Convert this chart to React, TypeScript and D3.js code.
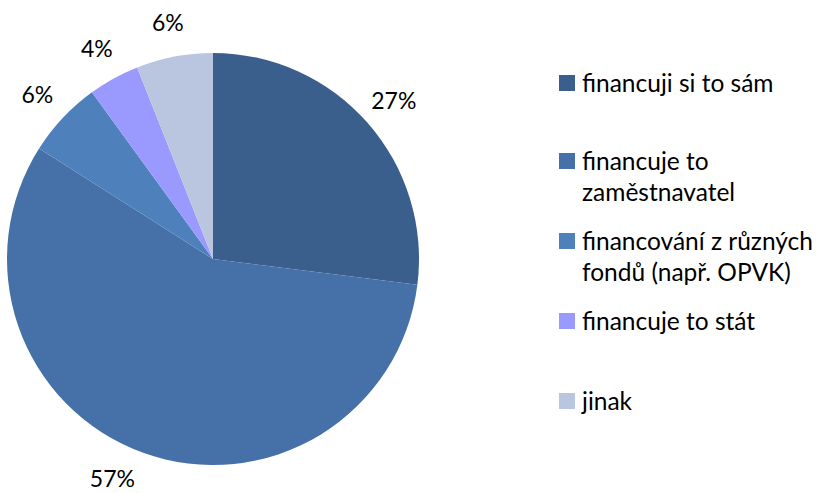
import React from "react";
import * as d3 from "d3";

const categories = [
  ["financuji si to sám"],
  ["financuje to", "zaměstnavatel"],
  ["financování z různých", "fondů (např. OPVK)"],
  ["financuje to stát"],
  ["jinak"],
];
const values = [27, 57, 6, 4, 6];
const labels = ["27%", "57%", "6%", "4%", "6%"];
const colors = ["#3A5F8C", "#4671A8", "#4E80BC", "#9A9AFE", "#BAC6DF"];
const legendBaselines = [92, 170, 250, 330, 410];

export default function App() {
  const W = 816, H = 493;
  const cx = 213, cy = 259, r = 206;
  const pie = d3.pie<number>().sort(null).value((d) => d);
  const arcs = pie(values);
  const arcGen = d3.arc<d3.PieArcDatum<number>>().innerRadius(0).outerRadius(r);
  const labelR = r + 35;
  const font = "Lato, 'Open Sans', sans-serif";
  const maxY = H - cy - 15;
  return (
    <svg width={W} height={H} style={{ position: "absolute", left: 0, top: 0 }}>
      <rect width={W} height={H} fill="#fff" />
      <g transform={`translate(${cx},${cy})`}>
        {arcs.map((a, i) => (
          <path key={i} d={arcGen(a) || ""} fill={colors[i]} />
        ))}
        {arcs.map((a, i) => {
          const mid = (a.startAngle + a.endAngle) / 2;
          let x = Math.sin(mid) * labelR;
          let y = -Math.cos(mid) * labelR;
          if (y > maxY) {
            // slide label along the circle to stay inside the chart
            const ang = Math.acos(-maxY / labelR);
            y = maxY;
            x = Math.sign(x) * Math.sin(ang) * labelR;
          }
          return (
            <text key={i} x={x} y={y} textAnchor="middle" dominantBaseline="central"
              fontFamily={font} fontSize={23} fill="#000">{labels[i]}</text>
          );
        })}
      </g>
      {categories.map((lines, i) => (
        <g key={i}>
          <rect x={559} y={legendBaselines[i] - 17} width={16} height={16} fill={colors[i]} />
          {lines.map((t, j) => (
            <text key={j} x={582} y={legendBaselines[i] + j * 31} fontFamily={font}
              fontSize={24.5} fill="#000">{t}</text>
          ))}
        </g>
      ))}
    </svg>
  );
}
